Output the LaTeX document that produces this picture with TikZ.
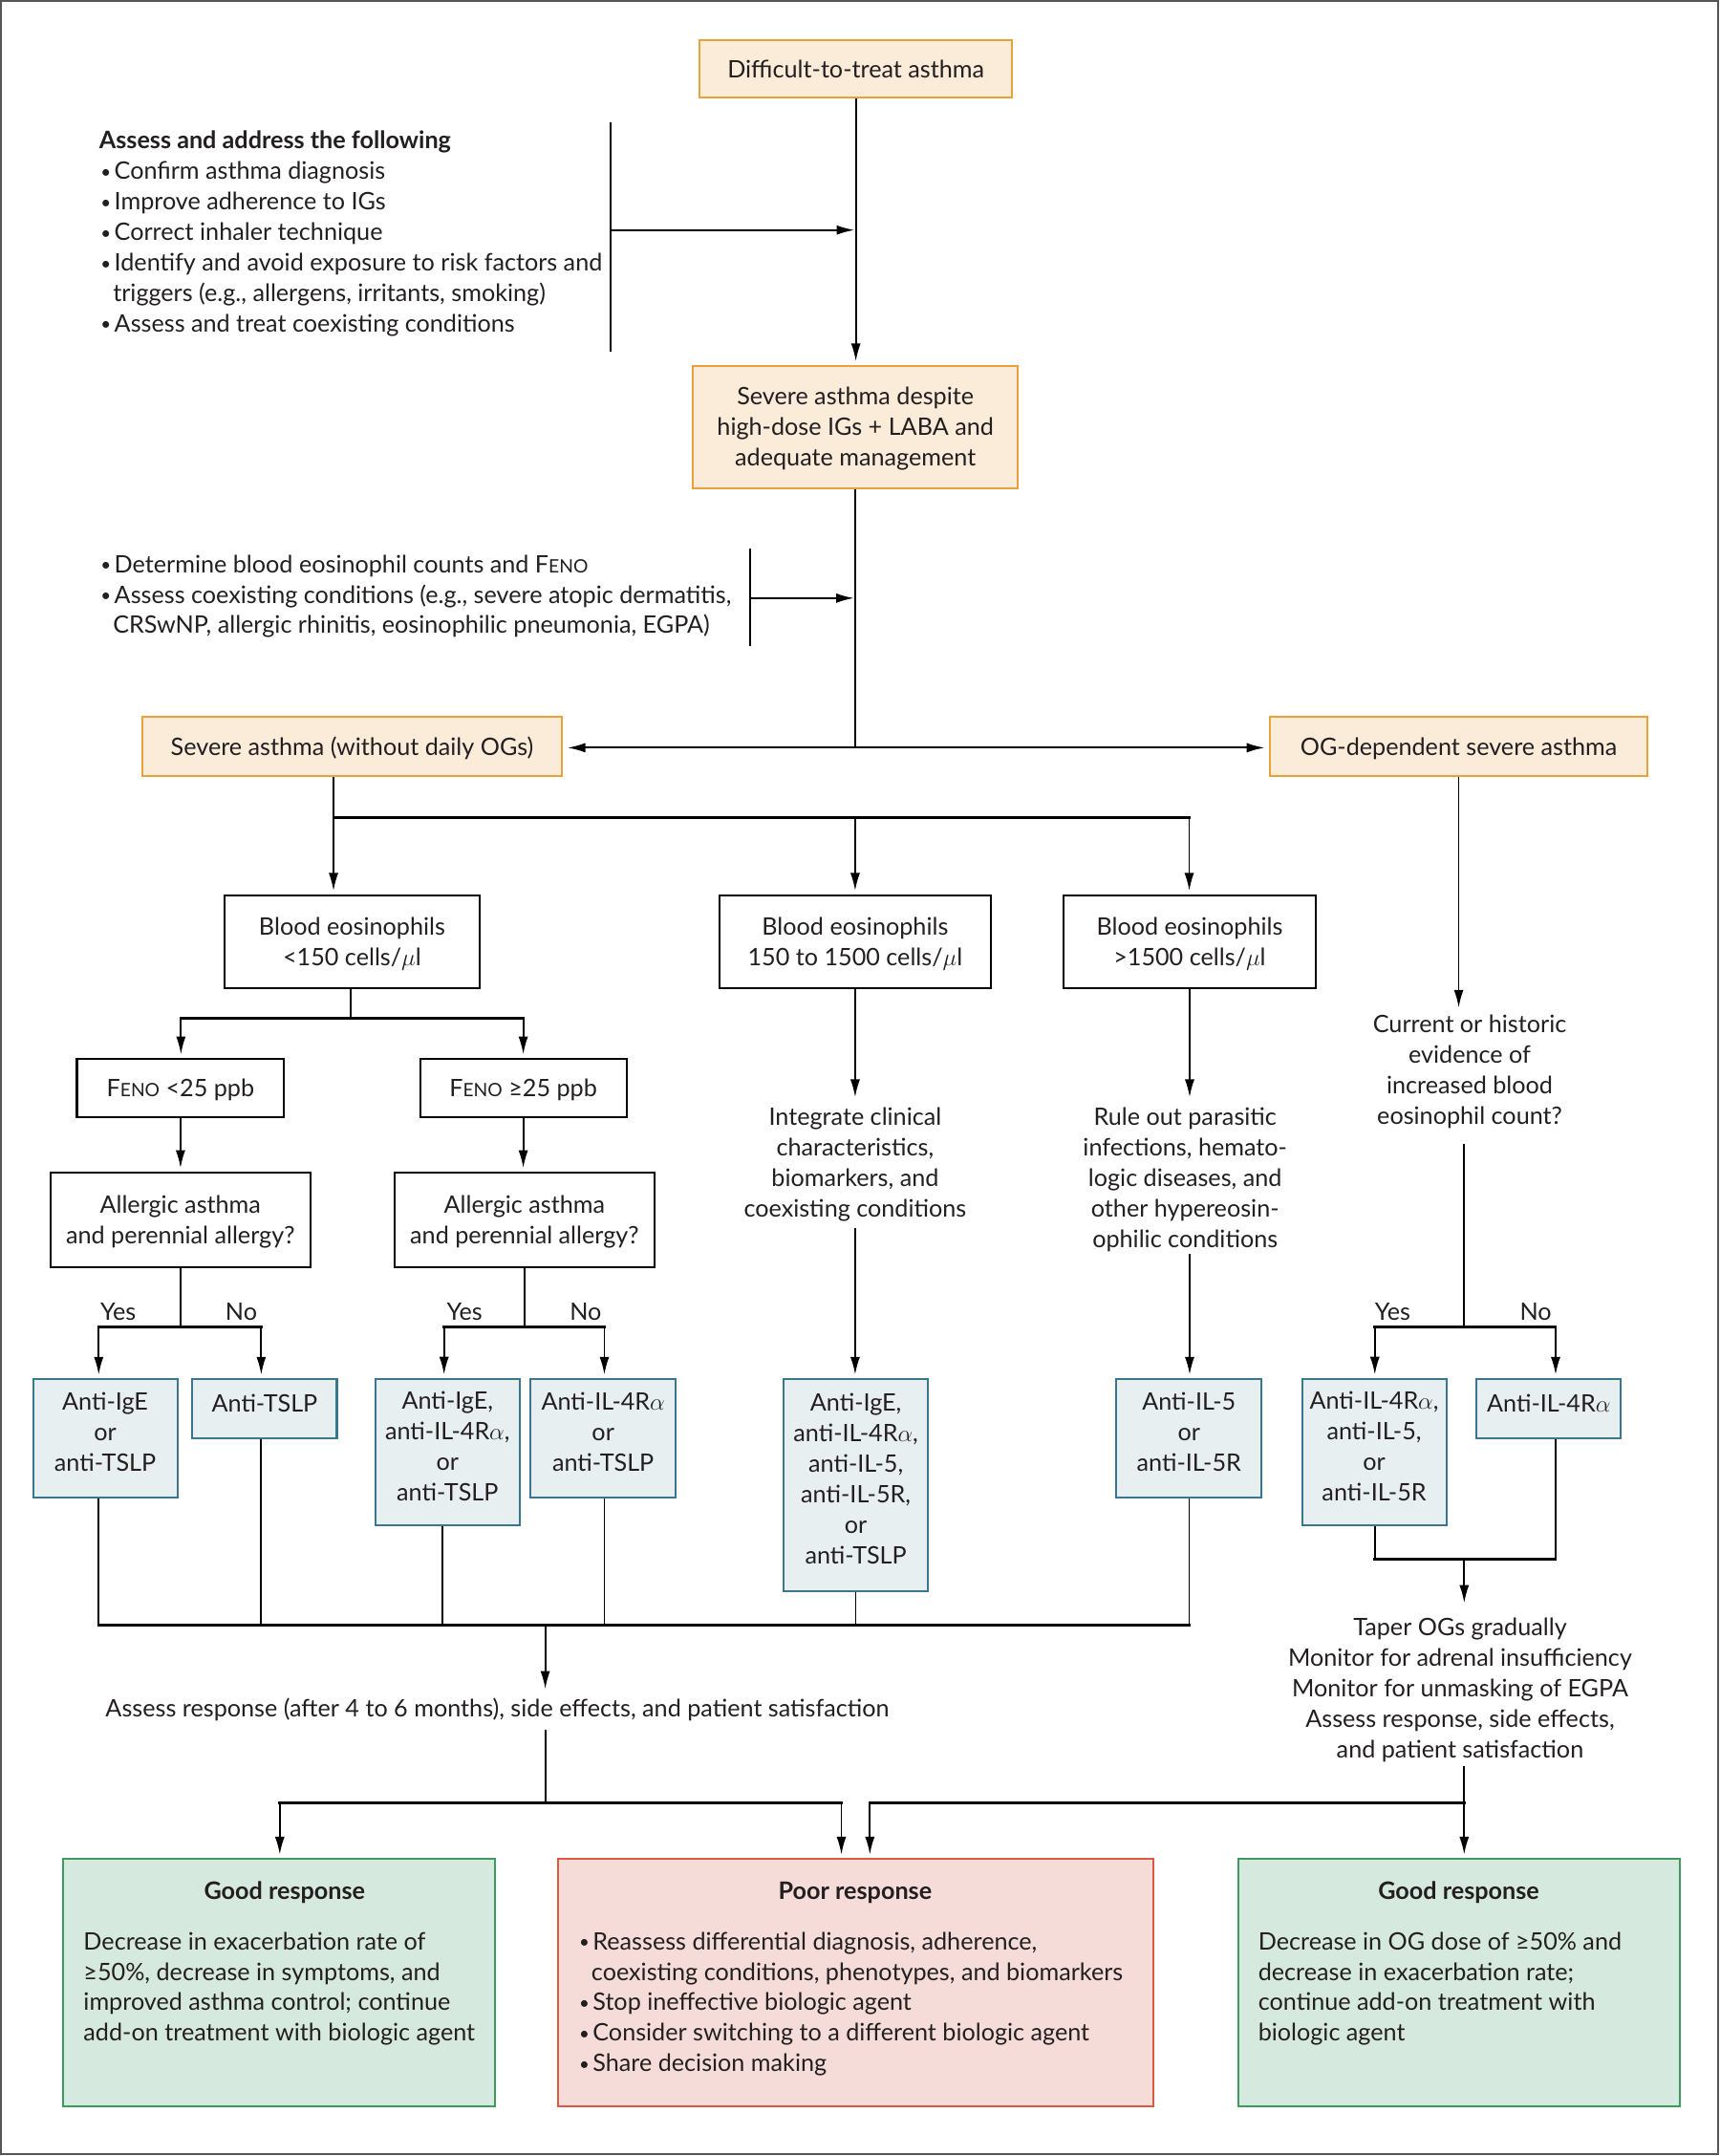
\documentclass[tikz,border=0pt]{standalone}
\usepackage{fontspec}
\usepackage{graphicx}
\setmainfont{Lato}
\usetikzlibrary{arrows.meta}
\definecolor{orB}{HTML}{E9A23B}
\definecolor{orF}{HTML}{FBEBD9}
\definecolor{blB}{HTML}{3A7690}
\definecolor{blF}{HTML}{E8EFF1}
\definecolor{grB}{HTML}{3E9A5E}
\definecolor{grF}{HTML}{D6E9DE}
\definecolor{rdB}{HTML}{D95A40}
\definecolor{rdF}{HTML}{F5DCD9}
\definecolor{txtc}{HTML}{231F20}
\definecolor{frame}{HTML}{555555}
\newcommand{\stB}{\rule[-4.5pt]{0pt}{21.5pt}}
\newcommand{\stE}{\rule[-4.5pt]{0pt}{1pt}}
\newcommand{\stD}{\rule[-13pt]{0pt}{1pt}}
\newcommand{\feno}{F{\fontsize{13.4}{13.4}\selectfont ENO}}
\newcommand{\bul}{\makebox[11pt][l]{\hspace{1pt}\raisebox{1.2pt}{\fontsize{13}{13}\selectfont•}}}
\newcommand{\cont}{\hspace*{10pt}}
\tikzset{
 base/.style={inner sep=0pt, align=center, execute at begin node=\stB, execute at end node=\stE, text=txtc},
 obox/.style={base, draw=orB, fill=orF, line width=1.4pt},
 wbox/.style={base, draw=black, line width=1.4pt},
 bbox/.style={base, draw=blB, fill=blF, line width=1.4pt, execute at end node=\stD},
 gbox/.style={draw=grB, fill=grF, line width=1.4pt, inner sep=0pt},
 rbox/.style={draw=rdB, fill=rdF, line width=1.4pt, inner sep=0pt},
 ctext/.style={base, anchor=north},
 ltext/.style={base, anchor=north west, align=left},
 lab/.style={base},
 ln/.style={line width=1.3pt, draw=black},
 bar/.style={line width=2pt, draw=black, line cap=rect},
 arr/.style={ln, -{Latex[length=13pt,width=7pt]}, shorten >=2.5pt},
}
\begin{document}
\begin{tikzpicture}[x=1pt,y=-1pt,font=\fontsize{17.5}{22.2}\selectfont]
\useasboundingbox (0,0) rectangle (1251,1568);
\draw[frame, line width=1.5pt] (0.75,0.75) rectangle (1249.5,1566.8);

% boxes
\node[obox, minimum width=227pt, minimum height=42pt] (n1) at (622.5,50.2) {Difficult-to-treat asthma};
\node[obox, minimum width=236.5pt, minimum height=89pt] (n2) at (622.2,310.5) {\stB Severe asthma despite\\high-dose IGs + LABA and\\adequate management\stE};
\node[obox, minimum width=305pt, minimum height=43pt] (n3) at (256.1,543) {Severe asthma (without daily OGs)};
\node[obox, minimum width=274pt, minimum height=43pt] (n4) at (1061,543) {OG-dependent severe asthma};

\node[wbox, minimum width=185pt, minimum height=67.5pt] (e1) at (256.1,684.8) {\stB Blood eosinophils\\<150 cells/$\mu$l\stE};
\node[wbox, minimum width=197pt, minimum height=67.5pt] (e2) at (622,684.8) {\stB Blood eosinophils\\150 to 1500 cells/$\mu$l\stE};
\node[wbox, minimum width=183pt, minimum height=67.5pt] (e3) at (865.3,684.8) {\stB Blood eosinophils\\>1500 cells/$\mu$l\stE};

\node[wbox, minimum width=150.7pt, minimum height=42.6pt] (f1) at (131.3,791.3) {\feno{} <25 ppb};
\node[wbox, minimum width=150pt, minimum height=42.6pt] (f2) at (380.6,791.3) {\feno{} ≥25 ppb};
\node[wbox, minimum width=189pt, minimum height=69pt] (a1) at (131.2,887.2) {\stB Allergic asthma\\and perennial allergy?\stE};
\node[wbox, minimum width=189pt, minimum height=69pt] (a2) at (381.5,887.2) {\stB Allergic asthma\\and perennial allergy?\stE};

\node[bbox, minimum width=105pt, minimum height=85.8pt] (b1) at (76.5,1045.9) {\stB Anti-IgE\\or\\anti-TSLP\stD};
\node[bbox, minimum width=105pt, minimum height=43.2pt] (b2) at (192.5,1024.6) {Anti-TSLP};
\node[bbox, minimum width=105pt, minimum height=106.3pt] (b3) at (325.5,1056.1) {\stB Anti-IgE,\\anti-IL-4R$\alpha$,\\or\\anti-TSLP\stD};
\node[bbox, minimum width=105.5pt, minimum height=85.8pt] (b4) at (438.7,1045.9) {\stB Anti-IL-4R$\alpha$\\or\\anti-TSLP\stD};
\node[bbox, minimum width=105pt, minimum height=154pt] (b5) at (622.5,1080) {\stB Anti-IgE,\\anti-IL-4R$\alpha$,\\anti-IL-5,\\anti-IL-5R,\\or\\anti-TSLP\stD};
\node[bbox, minimum width=105.6pt, minimum height=85.8pt] (b6) at (864.8,1045.9) {\stB Anti-IL-5\\or\\anti-IL-5R\stD};
\node[bbox, minimum width=105pt, minimum height=106.3pt] (b7) at (999.5,1056.1) {\stB Anti-IL-4R$\alpha$,\\anti-IL-5,\\or\\anti-IL-5R\stD};
\node[bbox, minimum width=105pt, minimum height=43.2pt] (b8) at (1126.5,1024.6) {Anti-IL-4R$\alpha$};

\node[gbox, minimum width=314pt, minimum height=180pt] (g1) at (203,1442) {};
\node[rbox, minimum width=432.6pt, minimum height=180pt] (p1) at (622.3,1442) {};
\node[gbox, minimum width=320.6pt, minimum height=180pt] (g2) at (1061.3,1442) {};

% free texts
\node[ltext] (tA) at (72,91.2) {\stB\textbf{Assess and address the following}\\\bul Confirm asthma diagnosis\\\bul Improve adherence to IGs\\\bul Correct inhaler technique\\\bul Identify and avoid exposure to risk factors and\\\cont triggers (e.g., allergens, irritants, smoking)\\\bul Assess and treat coexisting conditions\stE};
\node[ltext] (tB) at (72,399.2) {\stB\bul Determine blood eosinophil counts and \feno\\\bul Assess coexisting conditions (e.g., severe atopic dermatitis,\\\cont CRSwNP, allergic rhinitis, eosinophilic pneumonia, EGPA)\stE};
\node[ctext] (tC) at (622,801.2) {\stB Integrate clinical\\characteristics,\\biomarkers, and\\coexisting conditions\stE};
\node[ctext] (tD) at (862,801.2) {\stB Rule out parasitic\\infections, hemato-\\logic diseases, and\\other hypereosin-\\ophilic conditions\stE};
\node[ctext] (tE) at (1069,733.9) {\stB Current or historic\\evidence of\\increased blood\\eosinophil count?\stE};
\node[ctext] (tF) at (1062,1172.2) {\stB Taper OGs gradually\\Monitor for adrenal insufficiency\\Monitor for unmasking of EGPA\\Assess response, side effects,\\and patient satisfaction\stE};
\node[ltext] (tG) at (76.6,1231.2) {Assess response (after 4 to 6 months), side effects, and patient satisfaction};

\node[lab] (y1a) at (86,953.6) {Yes};
\node[lab] (y1b) at (175.5,953.6) {No};
\node[lab] (y2a) at (338,953.6) {Yes};
\node[lab] (y2b) at (426,953.6) {No};
\node[lab] (y3a) at (1013,953.6) {Yes};
\node[lab] (y3b) at (1117,953.6) {No};

\node[lab] (g1t) at (207,1375) {\textbf{Good response}};
\node[lab] (p1t) at (622,1375) {\textbf{Poor response}};
\node[lab] (g2t) at (1061,1375) {\textbf{Good response}};
\node[ltext] (g1b) at (60.6,1400.7) {\stB Decrease in exacerbation rate of\\≥50\%, decrease in symptoms, and\\improved asthma control; continue\\add-on treatment with biologic agent\stE};
\node[ltext] (p1b) at (420,1400.7) {\stB\bul Reassess differential diagnosis, adherence,\\\cont coexisting conditions, phenotypes, and biomarkers\\\bul Stop ineffective biologic agent\\\bul Consider switching to a different biologic agent\\\bul Share decision making\stE};
\node[ltext] (g2b) at (915,1400.7) {\stB Decrease in OG dose of ≥50\% and\\decrease in exacerbation rate;\\continue add-on treatment with\\biologic agent\stE};

% connectors top
\coordinate (j1t) at (444,89);
\coordinate (j1b) at (444,256);
\coordinate (j1m) at (444,167.3);
\draw[ln] (j1t) -- (j1b);
\draw[arr, shorten >=1pt] (j1m) -- (j1m -| n1.south);
\draw[arr] (n1.south) -- (n1.south |- n2.north);
\coordinate (jm) at (622.2,543.8);
\draw[ln] (n2.south) -- (jm);
\coordinate (j2t) at (545.8,399);
\coordinate (j2b) at (545.8,470);
\coordinate (j2m) at (545.8,435);
\draw[ln] (j2t) -- (j2b);
\draw[arr, shorten >=1pt] (j2m) -- (j2m -| jm);
\draw[ln, {Latex[length=13pt,width=7pt]}-{Latex[length=13pt,width=7pt]}, shorten <=3.5pt, shorten >=3.5pt] (jm -| n3.east) -- (jm -| n4.west);

% eosinophil split
\coordinate (k1) at (242.6,594.3);
\coordinate (k3) at (865,594.3);
\draw[ln] (k1 |- n3.south) -- (k1);
\draw[bar] (k1) -- (k3);
\draw[arr] (k1) -- (k1 |- e1.north);
\draw[arr] (k1 -| e2.north) -- (e2.north);
\draw[arr] (k3) -- (k3 |- e3.north);

\coordinate (k4) at (255.3,740.8);
\coordinate (k5) at (131.6,740.8);
\coordinate (k6) at (380.6,740.8);
\draw[ln] (k4 |- e1.south) -- (k4);
\draw[bar] (k5) -- (k6);
\draw[arr] (k5) -- (k5 |- f1.north);
\draw[arr] (k6) -- (k6 |- f2.north);
\draw[arr] (f1.south) -- (f1.south |- a1.north);
\draw[arr] (f2.south) -- (f2.south |- a2.north);

% yes/no
\coordinate (y1) at (131.6,964.8);
\coordinate (y1l) at (71.8,964.8);
\coordinate (y1r) at (190,964.8);
\draw[ln] (y1 |- a1.south) -- (y1);
\draw[bar] (y1l) -- (y1r);
\draw[arr] (y1l) -- (y1l |- b1.north);
\draw[arr] (y1r) -- (y1r |- b2.north);
\coordinate (y2) at (381.4,964.8);
\coordinate (y2l) at (323,964.8);
\coordinate (y2r) at (439.6,964.8);
\draw[ln] (y2 |- a2.south) -- (y2);
\draw[bar] (y2l) -- (y2r);
\draw[arr] (y2l) -- (y2l |- b3.north);
\draw[arr] (y2r) -- (y2r |- b4.north);

\draw[arr, shorten >=3.2pt] (e2.south) -- (e2.south |- tC.north);
\draw[arr, shorten <=3.1pt] (tC.south) -- (tC.south |- b5.north);
\draw[arr, shorten >=3.2pt] (e3.south) -- (e3.south |- tD.north);
\draw[arr] (e3.south |- tD.south) -- (e3.south |- b6.north);

\draw[arr, shorten >=1pt] (n4.south) -- (n4.south |- tE.north);
\coordinate (y3) at (1065,964.8);
\coordinate (y3l) at (1000,964.8);
\coordinate (y3r) at (1131.5,964.8);
\draw[ln, shorten <=9.8pt] (y3 |- tE.south) -- (y3);
\draw[bar] (y3l) -- (y3r);
\draw[arr] (y3l) -- (y3l |- b7.north);
\draw[arr] (y3r) -- (y3r |- b8.north);
\coordinate (z3) at (1065,1133.8);
\coordinate (z3l) at (1000,1133.8);
\coordinate (z3r) at (1131.5,1133.8);
\draw[ln] (z3l |- b7.south) -- (z3l);
\draw[ln] (z3r |- b8.south) -- (z3r);
\draw[bar] (z3l) -- (z3r);
\draw[arr, shorten >=6.4pt] (z3) -- (z3 |- tF.north);

% collect
\coordinate (c1) at (71.8,1181.8);
\coordinate (c2) at (190,1181.8);
\coordinate (c3) at (322,1181.8);
\coordinate (c4) at (439.6,1181.8);
\coordinate (c5) at (622.4,1181.8);
\coordinate (c6) at (865,1181.8);
\coordinate (cm) at (396.6,1181.8);
\draw[ln] (c1 |- b1.south) -- (c1);
\draw[ln] (c2 |- b2.south) -- (c2);
\draw[ln] (c3 |- b3.south) -- (c3);
\draw[ln] (c4 |- b4.south) -- (c4);
\draw[ln] (c5 |- b5.south) -- (c5);
\draw[ln] (c6 |- b6.south) -- (c6);
\draw[bar] (c1) -- (c6);
\draw[arr, shorten >=2.9pt] (cm) -- (cm |- tG.north);

\coordinate (d0) at (396.6,1311);
\coordinate (dl) at (203.5,1311);
\coordinate (dr) at (612,1311);
\draw[ln, shorten <=5.1pt] (d0 |- tG.south) -- (d0);
\draw[bar] (dl) -- (dr);
\draw[arr] (dl) -- (dl |- g1.north);
\draw[arr] (dr) -- (dr |- p1.north);
\coordinate (e0) at (1065,1311);
\coordinate (el) at (632.7,1311);
\draw[ln, shorten <=1.5pt] (e0 |- tF.south) -- (e0);
\draw[bar] (el) -- (e0);
\draw[arr] (e0) -- (e0 |- g2.north);
\draw[arr] (el) -- (el |- p1.north);
\end{tikzpicture}
\end{document}
